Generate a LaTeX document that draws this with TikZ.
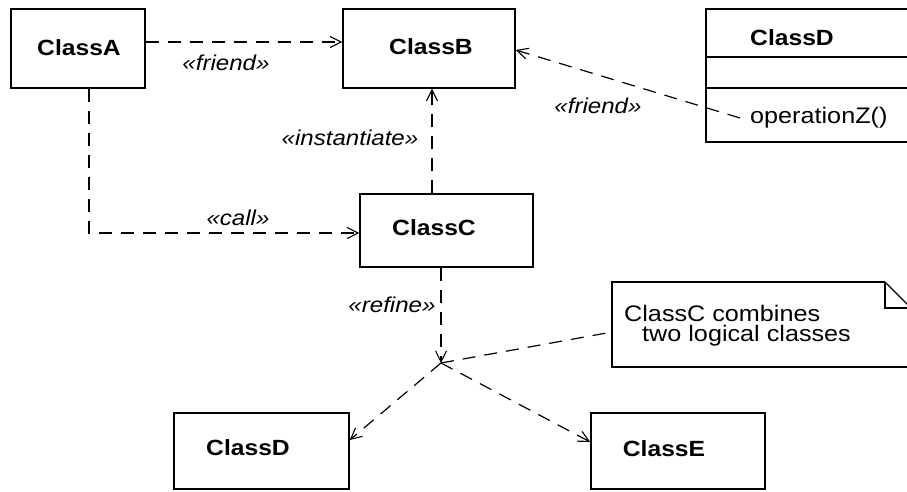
\documentclass[tikz,border=0pt]{standalone}
\usepackage{fontspec}
\setmainfont{Liberation Sans}[FakeStretch=1.12]
\usetikzlibrary{arrows.meta}
\begin{document}
\begin{tikzpicture}[x=1pt,y=-1pt,
  box/.style={draw, line width=1.4pt, inner sep=0pt},
  cname/.style={font=\fontsize{22}{26}\selectfont\bfseries, inner sep=0pt},
  plain/.style={font=\fontsize{22.5}{26}\selectfont, inner sep=0pt},
  lab/.style={font=\fontsize{21.5}{25}\selectfont\itshape, inner sep=0pt},
  dep/.style={line width=1.2pt, dash pattern=on 13pt off 9pt},
  tip/.style={-{Straight Barb[length=11pt,width=11pt,line width=1.1pt]}}
]
\clip (0,0) rectangle (907,491);
\fill[white] (0,0) rectangle (907,491);

% class boxes
\node[box, minimum width=134pt, minimum height=79pt] (A) at (78,48.5) {};
\node[cname] (At) at (79,48) {ClassA};
\node[box, minimum width=172pt, minimum height=79pt] (B) at (429,48.5) {};
\node[cname] (Bt) at (431,47) {ClassB};
\node[box, minimum width=173pt, minimum height=73pt] (C) at (446.5,230.5) {};
\node[cname] (Ct) at (434,228) {ClassC};
\node[box, minimum width=175pt, minimum height=76pt] (Dn) at (261.5,451) {};
\node[cname] (Dt) at (248,448) {ClassD};
\node[box, minimum width=174pt, minimum height=76pt] (E) at (678,451) {};
\node[cname] (Et) at (664,449) {ClassE};

% ClassD with compartments (cut off at the right)
\draw[line width=1.4pt] (915,9) -- (706,9) -- (706,142) -- (915,142);
\draw[line width=1.4pt] (706,57) -- (915,57);
\draw[line width=1.4pt] (706,88) -- (915,88);
\node[cname] (D2t) at (792,38) {ClassD};
\node[plain, anchor=west] (op) at (750,118) {operationZ()};

% note
\draw[line width=1.4pt] (885,282) -- (612,282) -- (612,367) -- (915,367);
\draw[line width=1.4pt] (885,282) -- (885,308) -- (915,308);
\draw[line width=1.2pt] (885,282) -- (911,308);
\node[plain, anchor=west] (n1) at (624,313) {ClassC combines};
\node[plain, anchor=west] (n2) at (642,336) {two logical classes};
\coordinate (N) at (612,332);

% connectors
\draw[dep, tip] ([yshift=6.5pt]A.east) -- ([yshift=6.5pt]B.west);
\node[lab] (l1) at (226,63) {«friend»};

\coordinate (ac) at (89,233);
\draw[dep, tip] (A.south -| ac) -- (ac) -- (C.west |- ac);
\node[lab] (l2) at (238,218) {«call»};

\coordinate (cb) at (432,194);
\draw[dep, tip] (C.north -| cb) -- (B.south -| cb);
\node[lab] (l3) at (350,138) {«instantiate»};

\draw[dep, tip] ([xshift=-10pt]op.west) -- ([yshift=-1.5pt]B.east);
\node[lab] (l4) at (598,106) {«friend»};

\coordinate (J) at (441,363);
\draw[dep, tip] (C.south -| J) -- (J);
\node[lab] (l5) at (392,305) {«refine»};

\draw[dep, tip] (J) -- ([yshift=11pt]Dn.east);
\draw[dep, tip] (J) -- ([yshift=9pt]E.west);
\draw[dep] (J) -- (N);
\end{tikzpicture}
\end{document}
